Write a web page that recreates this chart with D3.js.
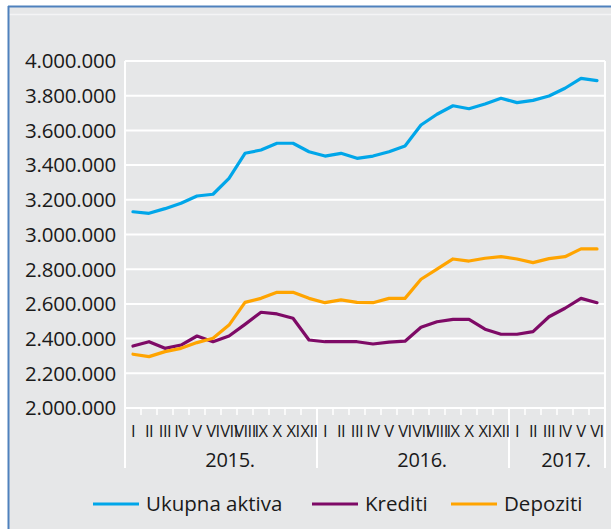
<!DOCTYPE html>
<html><head><meta charset="utf-8">
<script src="https://cdn.jsdelivr.net/npm/d3@7"></script>
<style>
html,body{margin:0;padding:0;background:#fff;}
svg{display:block;}
text{font-family:"Open Sans","Noto Sans",sans-serif;fill:#1a1a1a;}
</style></head><body>
<svg id="c" width="611" height="529"></svg>
<script>
const years = ["2015.", "2016.", "2017."];
const monthsPerYear = [12, 12, 6];
const romanMonths = ["I","II","III","IV","V","VI","VII","VIII","IX","X","XI","XII"];
const yTicks = [2000000,2200000,2400000,2600000,2800000,3000000,3200000,3400000,3600000,3800000,4000000];

const ukupnaAktiva = [3131000,3122000,3149000,3180000,3222000,3232000,3324000,3468000,3487000,3526000,3526000,3477000,
  3452000,3468000,3439000,3452000,3477000,3510000,3631000,3693000,3742000,3725000,3752000,3785000,
  3760000,3773000,3798000,3843000,3900000,3887000];
const krediti = [2357000,2382000,2344000,2363000,2415000,2382000,2415000,2482000,2552000,2542000,2517000,2392000,
  2382000,2382000,2382000,2369000,2380000,2385000,2465000,2497000,2511000,2511000,2454000,2425000,
  2425000,2440000,2526000,2575000,2632000,2607000];
const depoziti = [2310000,2296000,2325000,2344000,2377000,2402000,2478000,2609000,2632000,2667000,2667000,2632000,
  2607000,2623000,2609000,2607000,2632000,2632000,2742000,2800000,2859000,2847000,2863000,2872000,
  2859000,2838000,2861000,2872000,2917000,2917000];

const seriesNames = ["Ukupna aktiva","Krediti","Depoziti"];
const seriesColors = ["#00a6e9","#7e0a66","#ffa400"];
const seriesData = [ukupnaAktiva, krediti, depoziti];

const cats = [];
years.forEach((y,yi)=>{ for(let m=0;m<monthsPerYear[yi];m++) cats.push({key:y+romanMonths[m], label:romanMonths[m], year:y}); });

const svg = d3.select("#c");
const L=125, R=605, T=61, B=408;
const x = d3.scaleBand().domain(cats.map(c=>c.key)).range([L,R]).paddingInner(0).paddingOuter(0);
const y = d3.scaleLinear().domain([2000000,4000000]).range([B,T]);
const loc = d3.formatLocale({decimal:",",thousands:".",grouping:[3],currency:["",""]});
const fmt = loc.format(",.0f");

svg.append("rect").attr("x",8).attr("y",6).attr("width",603).attr("height",523).attr("fill","#e6e7e8");
svg.append("line").attr("x1",8).attr("x2",611).attr("y1",14.5).attr("y2",14.5).attr("stroke","#f4f4f5").attr("stroke-width",1.5);
svg.append("line").attr("x1",8).attr("x2",611).attr("y1",6.5).attr("y2",6.5).attr("stroke","#4f81bd").attr("stroke-width",2);
svg.append("line").attr("x1",8.5).attr("x2",8.5).attr("y1",6).attr("y2",529).attr("stroke","#4f81bd").attr("stroke-width",2);

const g = svg.append("g");
g.selectAll("line.grid").data(yTicks).join("line").attr("class","grid")
  .attr("x1",L).attr("x2",R).attr("y1",d=>y(d)).attr("y2",d=>y(d))
  .attr("stroke","#ffffff").attr("stroke-width",2);
g.selectAll("text.yl").data(yTicks).join("text").attr("class","yl")
  .attr("x",116).attr("y",d=>y(d)).attr("dy","0.36em").attr("text-anchor","end")
  .attr("font-size",20.5).attr("letter-spacing","-0.2").text(d=>fmt(d));

g.append("line").attr("x1",L).attr("x2",L).attr("y1",T).attr("y2",468).attr("stroke","#fff").attr("stroke-width",2);
g.append("line").attr("x1",R).attr("x2",R).attr("y1",T).attr("y2",468).attr("stroke","#fff").attr("stroke-width",2);
let idx=0; const yearStarts=[];
monthsPerYear.forEach((n,i)=>{ yearStarts.push({year:years[i], start:idx, n}); idx+=n; });
yearStarts.slice(1).forEach(ys=>{
  const xx = x(cats[ys.start].key);
  g.append("line").attr("x1",xx).attr("x2",xx).attr("y1",B).attr("y2",468).attr("stroke","#fff").attr("stroke-width",2);
});
g.selectAll("line.tk").data(cats.slice(1)).join("line").attr("class","tk")
  .attr("x1",d=>x(d.key)).attr("x2",d=>x(d.key)).attr("y1",B).attr("y2",B+7)
  .attr("stroke","#fff").attr("stroke-width",1.5);
g.selectAll("text.ml").data(cats).join("text").attr("class","ml")
  .attr("x",d=>x(d.key)+x.bandwidth()/2).attr("y",437).attr("text-anchor","middle")
  .attr("font-size",16.5).attr("letter-spacing","-0.5").text(d=>d.label);
g.selectAll("text.yr").data(yearStarts).join("text").attr("class","yr")
  .attr("x",d=>{const a=x(cats[d.start].key); const b=x(cats[d.start+d.n-1].key)+x.bandwidth(); return (a+b)/2+9;})
  .attr("y",467).attr("text-anchor","middle").attr("font-size",20).attr("letter-spacing","-0.3").text(d=>d.year);

const line = d3.line().x((d,i)=>x(cats[i].key)+x.bandwidth()/2).y(d=>y(d));
seriesData.forEach((s,si)=>{
  svg.append("path").attr("d",line(s)).attr("fill","none").attr("stroke",seriesColors[si])
    .attr("stroke-width",3.2).attr("stroke-linejoin","round").attr("stroke-linecap","round");
});

const legX = [93, 312, 451];
const lg = svg.append("g");
seriesNames.forEach((n,i)=>{
  lg.append("line").attr("x1",legX[i]).attr("x2",legX[i]+46).attr("y1",504).attr("y2",504)
    .attr("stroke",seriesColors[i]).attr("stroke-width",3.2);
  lg.append("text").attr("x",legX[i]+53).attr("y",504).attr("dy","0.36em")
    .attr("font-size",20.5).text(n);
});
</script></body></html>
